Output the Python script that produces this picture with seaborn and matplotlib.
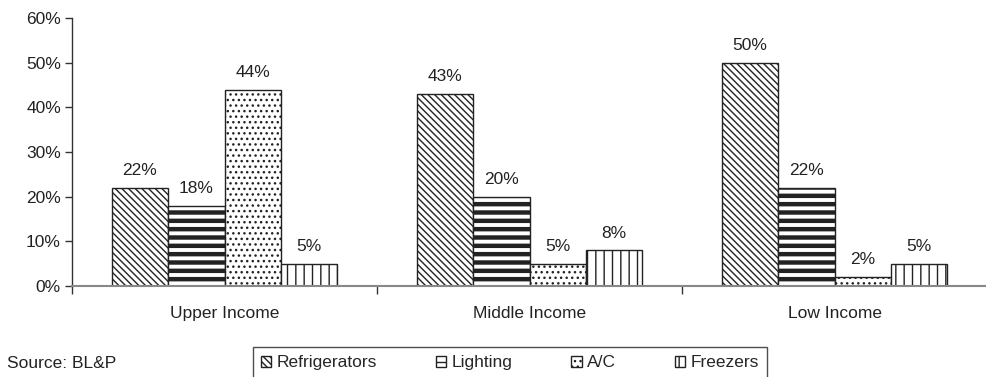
import matplotlib
matplotlib.use("Agg")
import matplotlib.pyplot as plt
import seaborn as sns
import pandas as pd
from matplotlib.patches import Patch
from matplotlib.ticker import FuncFormatter, FixedLocator

groups = ["Upper Income", "Middle Income", "Low Income"]
appliances = ["Refrigerators", "Lighting", "A/C", "Freezers"]
refrigerators = [22, 43, 50]
lighting = [18, 20, 22]
ac = [44, 5, 2]
freezers = [5, 8, 5]
source_text = "Source: BL&P"

rows = []
for name, vals in zip(appliances, [refrigerators, lighting, ac, freezers]):
    for g, v in zip(groups, vals):
        rows.append({"Group": g, "Appliance": name, "Share": v})
df = pd.DataFrame(rows)

sns.set_theme(style="white")
plt.rcParams["font.family"] = ["Liberation Sans", "DejaVu Sans"]
plt.rcParams["hatch.linewidth"] = 1.0

hatches = {"Refrigerators": "\\\\\\\\\\", "Lighting": "--", "A/C": "...", "Freezers": "||"}
hatch_lw = {"Refrigerators": 1.0, "Lighting": 3.2, "A/C": 1.0, "Freezers": 1.0}

fig = plt.figure(figsize=(9.87, 3.77), dpi=100)
ax = fig.add_axes([0.073, 0.241, 0.927, 0.711])

sns.barplot(data=df, x="Group", y="Share", hue="Appliance", order=groups,
            hue_order=appliances, palette=["white"] * 4, edgecolor="#222222",
            linewidth=1.0, width=0.74, ax=ax, legend=False)

for cont, name in zip(ax.containers, appliances):
    for bar in cont:
        bar.set_hatch(hatches[name])
        try:
            bar.set_hatch_linewidth(hatch_lw[name])
        except AttributeError:
            pass
    ax.bar_label(cont, fmt="%d%%", padding=7, fontsize=12.5, color="#222222")

ax.set_ylim(0, 60)
ax.set_xlim(-0.5, 2.5)
ax.set_yticks(range(0, 61, 10))
ax.yaxis.set_major_formatter(FuncFormatter(lambda v, p: f"{v:.0f}%"))
ax.set_xlabel("")
ax.set_ylabel("")
ax.tick_params(axis="y", which="both", left=True, length=5, width=1,
               color="#333333", labelsize=12.5, labelcolor="#222222", pad=3)
ax.tick_params(axis="x", which="major", length=0, labelsize=12.5,
               labelcolor="#222222", pad=14)
ax.xaxis.set_minor_locator(FixedLocator([-0.5, 0.5, 1.5, 2.5]))
ax.tick_params(axis="x", which="minor", bottom=True, length=6, width=1,
               color="#333333")

sns.despine(ax=ax)
ax.spines["left"].set_color("#333333")
ax.spines["bottom"].set_color("#888888")
ax.spines["left"].set_linewidth(1.0)
ax.spines["bottom"].set_linewidth(1.5)

handles = []
for name in appliances:
    p = Patch(facecolor="white", edgecolor="#222222", hatch=hatches[name], label=name)
    handles.append(p)
leg = fig.legend(handles=handles, labels=appliances, ncol=4,
                 loc="center", bbox_to_anchor=(0.5165, 0.038),
                 frameon=True, fancybox=False, fontsize=12.5,
                 handlelength=0.6, handleheight=0.6, handletextpad=0.3,
                 columnspacing=3.4, borderpad=0.45, borderaxespad=0)
leg.get_frame().set_edgecolor("#222222")
leg.get_frame().set_linewidth(1.0)

fig.text(0.007, 0.037, source_text, fontsize=12.5, color="#222222", va="center")

fig.savefig("out.png", dpi=100)
